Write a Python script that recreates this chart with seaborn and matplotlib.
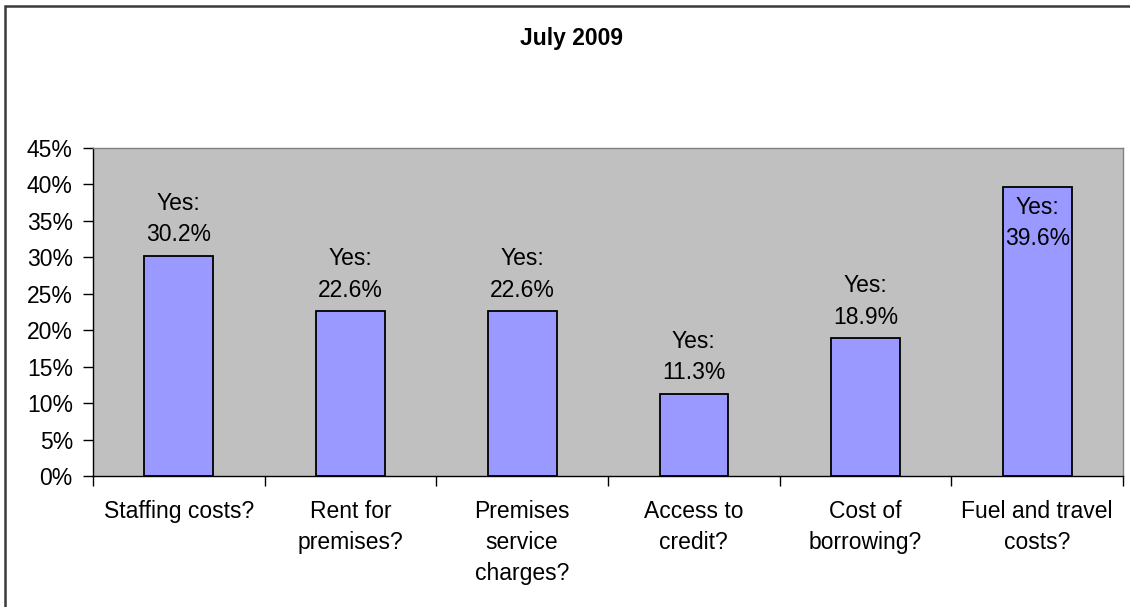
import matplotlib
matplotlib.use("Agg")
import matplotlib.pyplot as plt
from matplotlib.patches import Rectangle
from matplotlib.ticker import PercentFormatter
import seaborn as sns
import pandas as pd

# Survey answers: share of "Yes" responses per cost question
categories = [
    "Staffing costs?",
    "Rent for\npremises?",
    "Premises\nservice\ncharges?",
    "Access to\ncredit?",
    "Cost of\nborrowing?",
    "Fuel and travel\ncosts?",
]
yes_share = [30.2, 22.6, 22.6, 11.3, 18.9, 39.6]
title = "July 2009"

sns.set_theme(style="white")
plt.rcParams["font.family"] = ["Liberation Sans", "DejaVu Sans"]

FS = 16.5
LS = 1.45

W, H = 1130, 607
fig = plt.figure(figsize=(W / 100, H / 100), dpi=100)
fig.patch.set_facecolor("white")

# outer chart frame (runs off the right and bottom edges)
fig.add_artist(Rectangle((5 / W, -20 / H), 1140 / W, (607 + 20 - 6) / H,
                         transform=fig.transFigure, fill=False,
                         edgecolor="#3a3a3a", linewidth=1.8))

ax = fig.add_axes([93 / W, 1 - 476 / H, (1123 - 93) / W, (476 - 148) / H])
ax.set_facecolor("#C0C0C0")

df = pd.DataFrame({"question": categories, "share": yes_share})
sns.barplot(data=df, x="question", y="share", ax=ax, color="#9999FF",
            saturation=1, width=0.4, edgecolor="black", linewidth=1.3)

ax.set_ylim(0, 45)
ax.set_xlim(-0.5, len(categories) - 0.5)
ax.set_yticks(range(0, 46, 5))
ax.yaxis.set_major_formatter(PercentFormatter(decimals=0))
ax.set_xlabel("")
ax.set_ylabel("")

# value labels: above the bar, or inside the top when there is no room
for i, v in enumerate(yes_share):
    text = f"Yes:\n{v:.1f}%"
    inside = v > 36
    ax.annotate(text, (i, v), xytext=(0, -6 if inside else 7),
                textcoords="offset points", ha="center",
                va="top" if inside else "bottom", fontsize=FS,
                linespacing=LS, color="black")

for side in ("top", "right"):
    ax.spines[side].set_color("#808080")
    ax.spines[side].set_linewidth(1.0)
for side in ("left", "bottom"):
    ax.spines[side].set_color("black")
    ax.spines[side].set_linewidth(1.0)

ax.tick_params(axis="y", which="major", direction="out", length=7, width=1,
               color="black", left=True, labelsize=FS, pad=7.5,
               labelcolor="black")
ax.tick_params(axis="x", which="major", length=0, labelsize=FS, pad=17,
               labelcolor="black")
ax.set_xticks([i - 0.5 for i in range(len(categories) + 1)], minor=True)
ax.tick_params(axis="x", which="minor", direction="out", length=7, width=1,
               color="black", bottom=True)
for lbl in ax.get_xticklabels():
    lbl.set_linespacing(LS)
    lbl.set_va("top")

fig.text(572 / W, 1 - 38 / H, title, ha="center", va="center", fontsize=FS,
         fontweight="bold", color="black")

fig.savefig("out.png", dpi=100)
